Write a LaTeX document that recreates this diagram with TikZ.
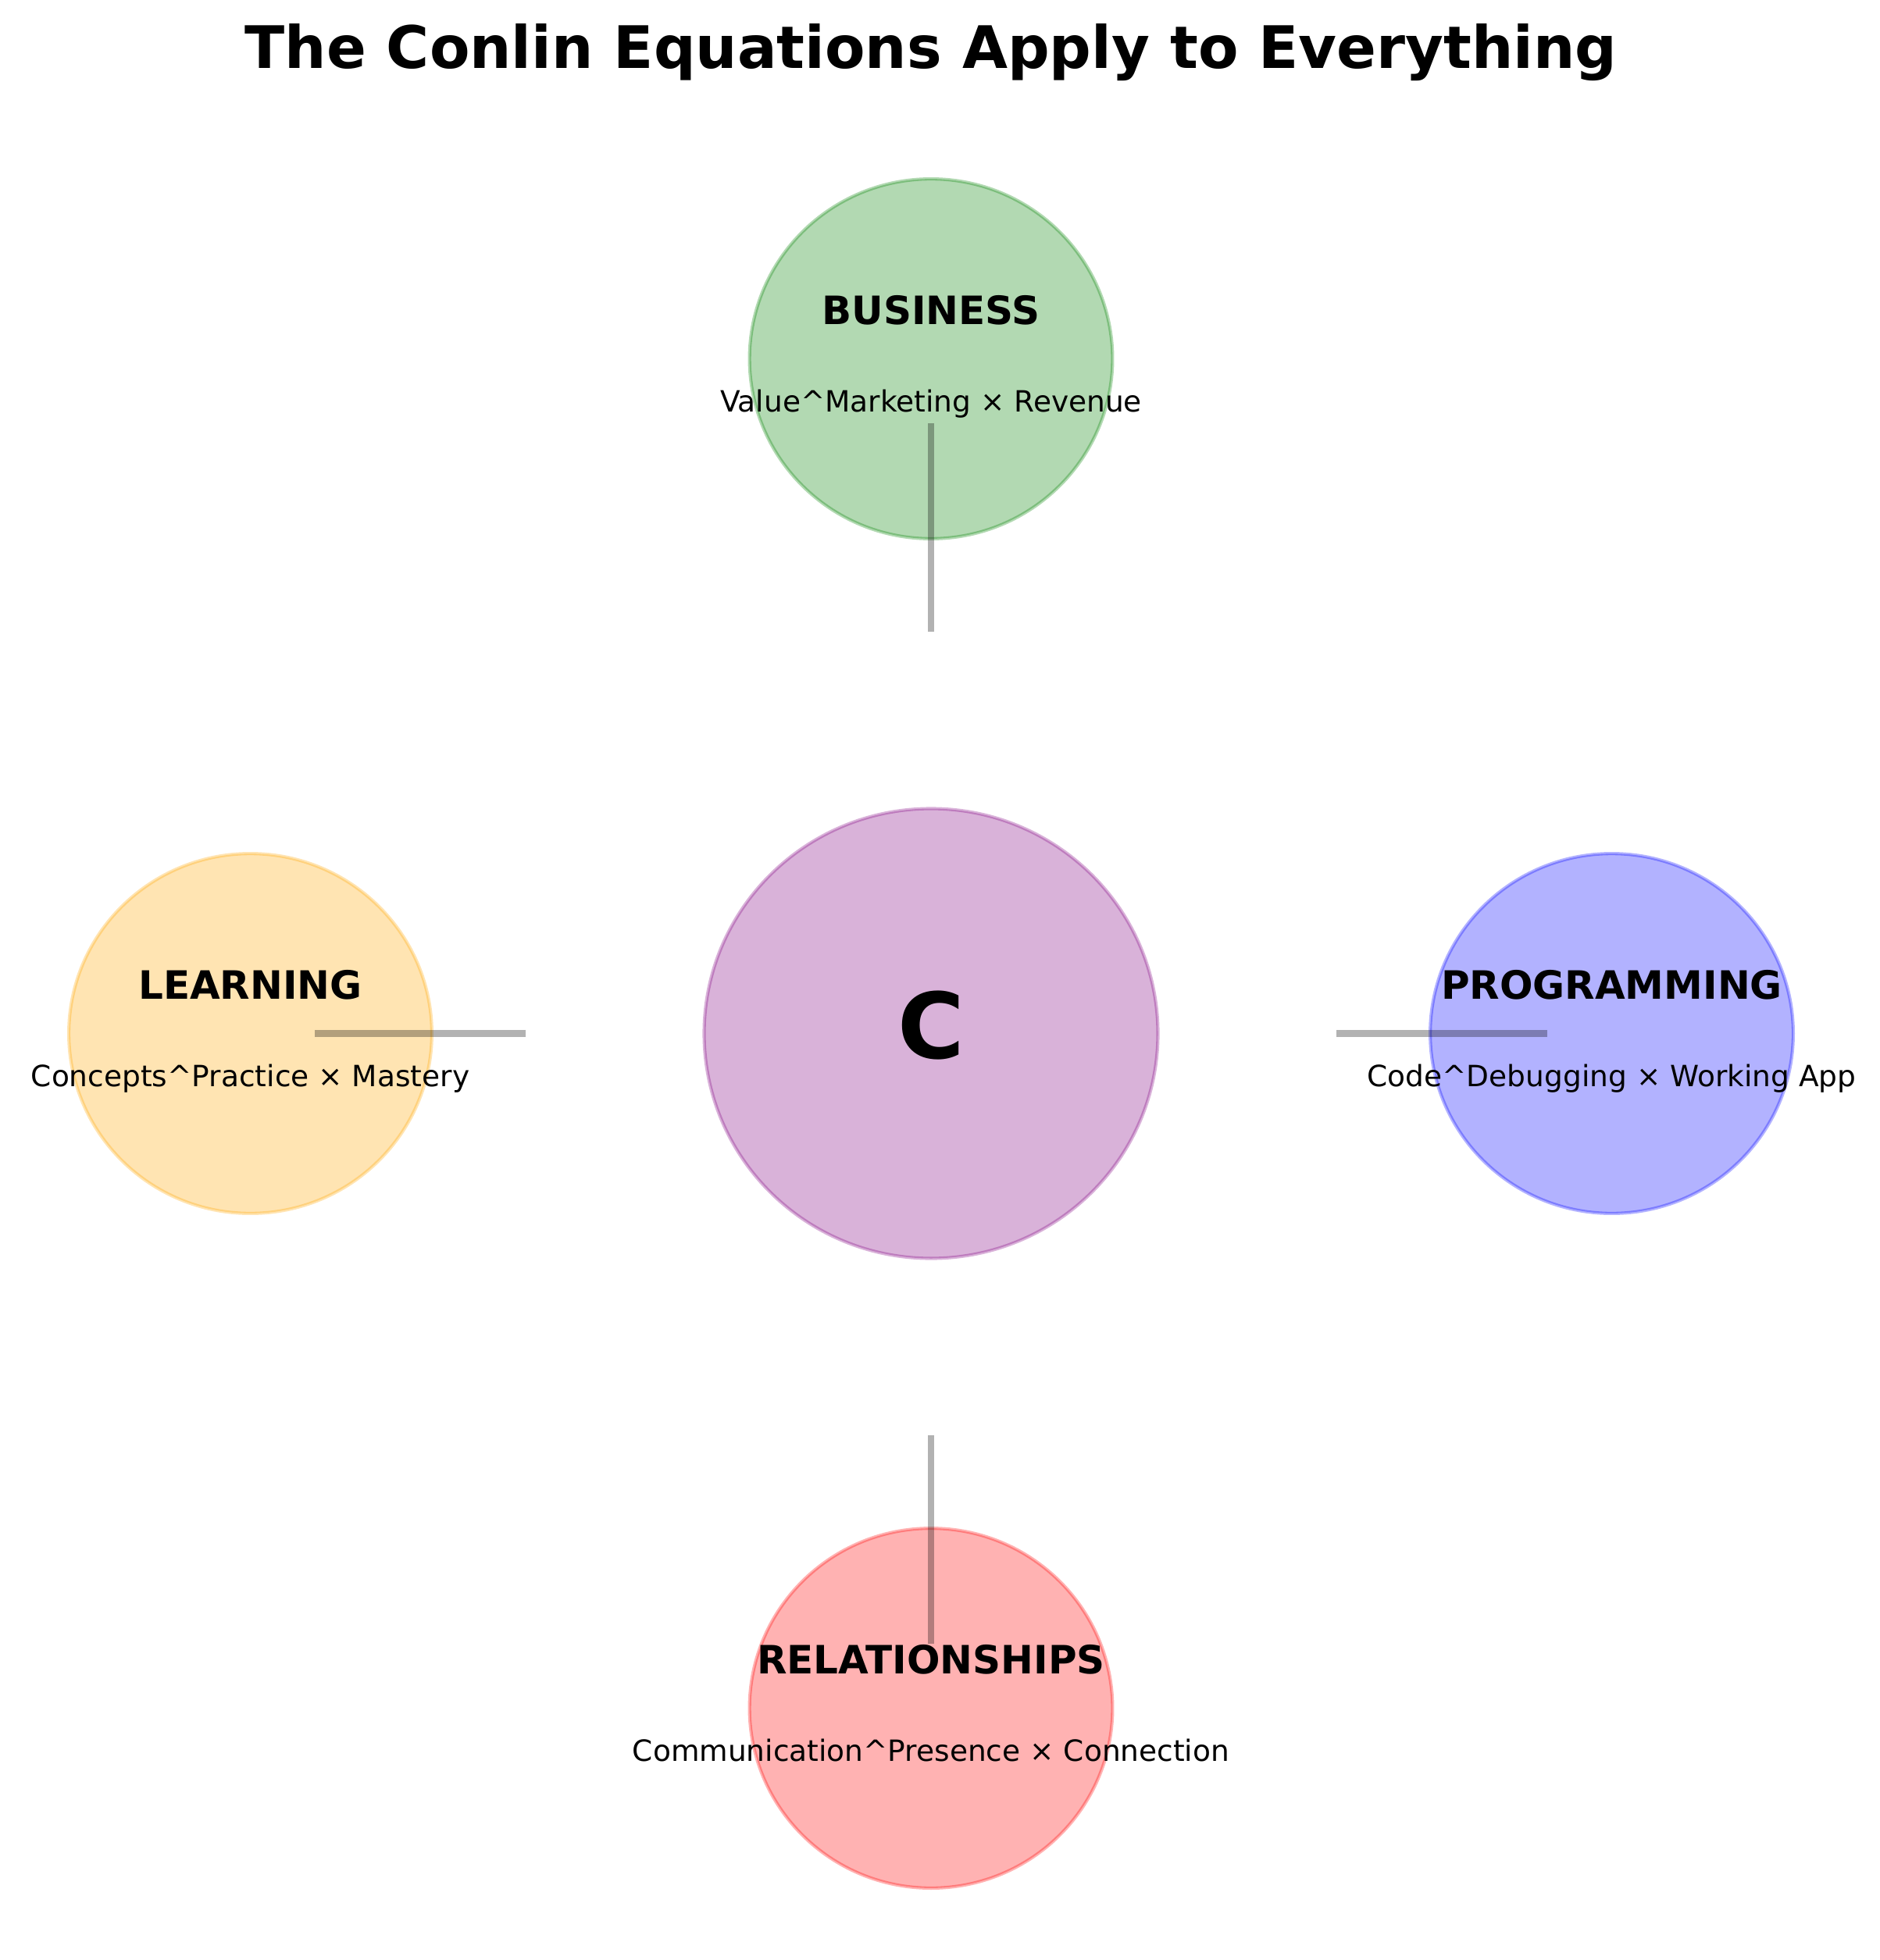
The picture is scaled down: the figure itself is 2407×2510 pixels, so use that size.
\documentclass[tikz,border=0pt]{standalone}
\usepackage{fontspec}
\setmainfont{DejaVu Sans}
\usetikzlibrary{shapes.geometric}
\definecolor{cgreen}{RGB}{0,128,0}
\definecolor{corange}{RGB}{255,165,0}
\definecolor{cblue}{RGB}{0,0,255}
\definecolor{cred}{RGB}{255,0,0}
\definecolor{cpurple}{RGB}{128,0,128}
\begin{document}
\begin{tikzpicture}[x=0.24pt,y=-0.24pt,
  bubble/.style={ellipse, inner sep=0pt, outer sep=0pt, line width=1pt,
    draw=#1, fill=#1, fill opacity=0.3, draw opacity=0.3},
  small/.style={bubble=#1, minimum width=111.55pt, minimum height=110.59pt},
  big/.style={bubble=#1, minimum width=139.44pt, minimum height=138.24pt},
  lbl/.style={font=\fontsize{12}{14}\selectfont\bfseries, inner sep=0pt, text height=9.12pt, text depth=2.496pt},
  eqn/.style={font=\fontsize{9}{11}\selectfont, inner sep=0pt, text height=6.84pt, text depth=1.872pt},
  link/.style={draw=black, draw opacity=0.3, line width=2pt, line cap=rect}]
\useasboundingbox (0,0) rectangle (2407,2510);
% circles
\node[big=cpurple] (center) at (1192,1323.5) {};
\node[small=cgreen] (business) at (1192,459.5) {};
\node[small=corange] (learning) at (320.5,1323.5) {};
\node[small=cblue] (programming) at (2063.5,1323.5) {};
\node[small=cred] (relationships) at (1192,2187.5) {};
% connectors
\coordinate (b1) at (1192,805.1);
\coordinate (b2) at (1192,545.9);
\coordinate (l1) at (669.1,1323.5);
\coordinate (l2) at (407.6,1323.5);
\coordinate (p1) at (1714.9,1323.5);
\coordinate (p2) at (1976.4,1323.5);
\coordinate (r1) at (1192,1841.9);
\coordinate (r2) at (1192,2101.1);
\draw[link] (b1) -- (b2);
\draw[link] (l1) -- (l2);
\draw[link] (p1) -- (p2);
\draw[link] (r1) -- (r2);
% texts
\node[anchor=base, inner sep=0pt, font=\fontsize{18}{22}\selectfont\bfseries] (title) at (1192,88) {The Conlin Equations Apply to Everything};
\node[inner sep=0pt, font=\fontsize{28}{34}\selectfont\bfseries, text height=21.28pt, text depth=5.824pt] (ctext) at (center.center) {C};
\node[lbl] (btext) at (1192,401.9) {BUSINESS};
\node[eqn] (beq) at (1192,517.1) {Value\textasciicircum Marketing × Revenue};
\node[lbl] (ltext) at (320.5,1265.9) {LEARNING};
\node[eqn] (leq) at (320.5,1381.1) {Concepts\textasciicircum Practice × Mastery};
\node[lbl] (ptext) at (2063.5,1265.9) {PROGRAMMING};
\node[eqn] (peq) at (2063.5,1381.1) {Code\textasciicircum Debugging × Working App};
\node[lbl] (rtext) at (1192,2129.9) {RELATIONSHIPS};
\node[eqn] (req) at (1192,2245.1) {Communication\textasciicircum Presence × Connection};
\end{tikzpicture}
\end{document}
